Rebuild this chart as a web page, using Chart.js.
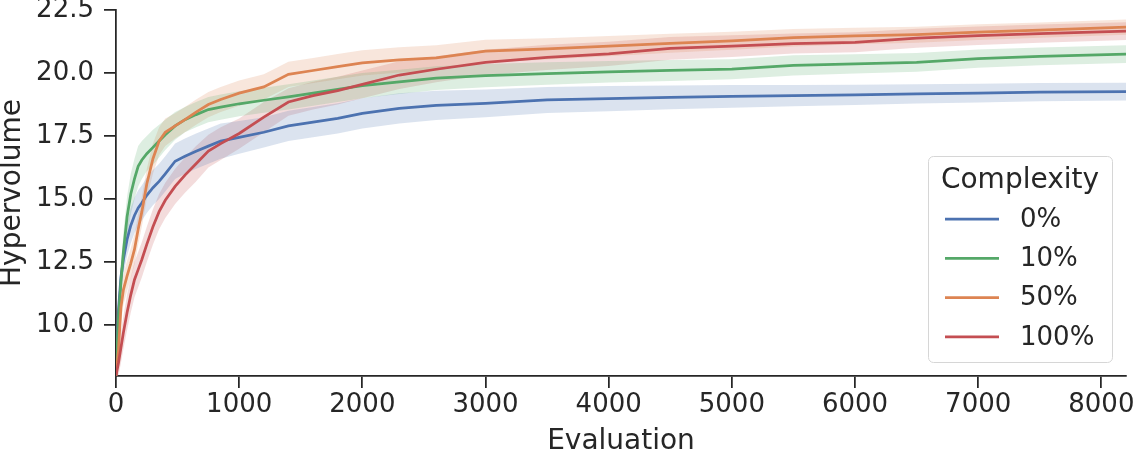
<!DOCTYPE html>
<html><head><meta charset="utf-8">
<script src="https://cdn.jsdelivr.net/npm/chart.js@4"></script>
<style>html,body{margin:0;padding:0;background:#fff;}canvas{display:block;}</style>
</head><body>
<canvas id="c" width="1136" height="455"></canvas>
<script>
const evaluations = [0,20,40,60,90,120,150,180,210,250,300,350,400,480,560,650,750,850,1000,1200,1400,1600,1800,2000,2300,2600,3000,3500,4000,4500,5000,5500,6000,6500,7000,7500,8200];
const seriesLabels = ['0%','10%','50%','100%'];
const seriesColors = ['#4c72b0','#55a868','#dd8452','#c44e52'];

const mean0 = [8.0,10.6,11.9,12.6,13.4,13.95,14.35,14.65,14.85,15.15,15.45,15.7,16.0,16.5,16.7,16.9,17.1,17.3,17.45,17.65,17.9,18.05,18.2,18.4,18.6,18.72,18.8,18.93,18.98,19.03,19.07,19.1,19.13,19.17,19.2,19.24,19.26];
const ci0   = [0.1,0.5,0.6,0.6,0.65,0.7,0.7,0.7,0.7,0.7,0.7,0.7,0.7,0.7,0.7,0.7,0.7,0.7,0.65,0.6,0.6,0.6,0.6,0.6,0.6,0.58,0.55,0.52,0.5,0.47,0.45,0.42,0.4,0.38,0.37,0.36,0.35];

const mean10 = [8.0,10.3,11.7,12.9,14.3,15.2,15.8,16.3,16.55,16.8,17.05,17.3,17.55,17.9,18.15,18.35,18.55,18.65,18.78,18.92,19.05,19.2,19.35,19.5,19.65,19.8,19.9,19.98,20.05,20.1,20.15,20.3,20.36,20.42,20.57,20.66,20.75];
const ci10   = [0.1,0.6,0.7,0.75,0.8,0.8,0.8,0.8,0.75,0.7,0.7,0.65,0.6,0.55,0.5,0.5,0.5,0.5,0.5,0.5,0.5,0.5,0.5,0.5,0.48,0.47,0.46,0.45,0.43,0.42,0.4,0.4,0.38,0.37,0.36,0.35,0.35];

const mean50 = [8.0,9.0,10.7,11.4,11.95,12.45,13.0,13.8,14.5,15.6,16.6,17.3,17.65,17.9,18.15,18.45,18.75,18.95,19.2,19.45,19.95,20.1,20.25,20.4,20.52,20.6,20.87,20.96,21.07,21.18,21.28,21.4,21.47,21.52,21.62,21.7,21.82];
const ci50   = [0.1,0.5,0.6,0.6,0.6,0.6,0.6,0.6,0.6,0.6,0.6,0.55,0.55,0.5,0.5,0.5,0.5,0.5,0.5,0.5,0.5,0.5,0.5,0.5,0.5,0.5,0.45,0.42,0.4,0.38,0.36,0.35,0.33,0.32,0.31,0.3,0.3];

const mean100 = [8.0,8.5,9.1,9.7,10.5,11.2,11.8,12.2,12.6,13.2,13.9,14.5,14.95,15.5,15.95,16.4,16.9,17.2,17.6,18.25,18.85,19.1,19.3,19.55,19.92,20.15,20.42,20.62,20.76,20.98,21.07,21.17,21.22,21.38,21.48,21.56,21.66];
const ci100   = [0.1,0.5,0.6,0.65,0.7,0.7,0.7,0.7,0.7,0.7,0.7,0.7,0.7,0.7,0.7,0.7,0.65,0.65,0.6,0.6,0.55,0.55,0.55,0.55,0.55,0.52,0.5,0.5,0.48,0.45,0.43,0.4,0.4,0.38,0.37,0.36,0.35];

const xTicks = [0,1000,2000,3000,4000,5000,6000,7000,8000];
const yTicks = [10,12.5,15,17.5,20,22.5];

const means = [mean0, mean10, mean50, mean100];
const cis = [ci0, ci10, ci50, ci100];

function hexA(hex, a){
  const n = parseInt(hex.slice(1),16);
  return `rgba(${(n>>16)&255},${(n>>8)&255},${n&255},${a})`;
}
const pts = arr => arr.map((v,i)=>({x:evaluations[i], y:v}));

const datasets = [];
means.forEach((m, s) => {
  const ci = cis[s];
  datasets.push({ data: pts(m.map((v,i)=>v+ci[i])), borderWidth:0, pointRadius:0, backgroundColor: hexA(seriesColors[s],0.2), fill:'+1', order:10, isBand:true });
  datasets.push({ data: pts(m.map((v,i)=>v-ci[i])), borderWidth:0, pointRadius:0, fill:false, order:10, isBand:true });
  datasets.push({ label: seriesLabels[s], data: pts(m), borderColor: seriesColors[s], backgroundColor: seriesColors[s], borderWidth:2.75, pointRadius:0, fill:false, order: 4-s, tension:0 });
});

const TXT = '#262626';
const FONT = 'DejaVu Sans';
Chart.defaults.font.family = FONT;
Chart.defaults.color = TXT;

const legendPlugin = {
  id: 'boxLegend',
  afterDraw(chart){
    const ctx = chart.ctx, ca = chart.chartArea;
    const w = 184, h = 206;
    const x0 = ca.right - 14 - w, y0 = ca.bottom - 14 - h;
    ctx.save();
    ctx.beginPath();
    ctx.roundRect(x0+0.5, y0+0.5, w, h, 5);
    ctx.fillStyle = 'rgba(255,255,255,0.8)';
    ctx.fill();
    ctx.strokeStyle = '#d6d6d6';
    ctx.lineWidth = 1;
    ctx.stroke();
    ctx.fillStyle = TXT;
    ctx.textBaseline = 'middle';
    ctx.textAlign = 'center';
    ctx.font = `28px "${FONT}"`;
    ctx.fillText('Complexity', x0 + w/2, y0 + 25);
    const lines = chart.data.datasets.filter(d => !d.isBand);
    ctx.textAlign = 'left';
    ctx.font = `26px "${FONT}"`;
    lines.forEach((d, i) => {
      const y = y0 + 63 + i*39.3;
      ctx.beginPath();
      ctx.moveTo(x0+17, y); ctx.lineTo(x0+71, y);
      ctx.strokeStyle = d.borderColor; ctx.lineWidth = 2.75;
      ctx.stroke();
      ctx.fillStyle = TXT;
      ctx.fillText(d.label, x0+92, y+1);
    });
    ctx.restore();
  }
};

function noPad(s){ s.paddingTop = 0; s.paddingBottom = 0; s.paddingLeft = 0; s.paddingRight = 0; }

new Chart(document.getElementById('c'), {
  type: 'line',
  data: { datasets },
  options: {
    responsive: false,
    animation: false,
    layout: { autoPadding: false, padding: { top: 10, right: 10, left: 0, bottom: 0 } },
    plugins: { legend: { display: false }, tooltip: { enabled: false } },
    scales: {
      x: {
        type: 'linear', min: 0, max: 8200,
        afterBuildTicks: s => { s.ticks = xTicks.map(v => ({ value: v })); },
        afterFit: s => { s.height = 79; noPad(s); },
        ticks: { font: { size: 26 }, color: TXT, padding: 2, maxRotation: 0, autoSkip: false, callback: v => String(v) },
        grid: { drawOnChartArea: false, drawTicks: true, tickLength: 12, tickWidth: 1.75, tickColor: TXT, lineWidth: 1.75, color: TXT },
        border: { display: true, color: TXT, width: 1.75 },
        title: { display: true, text: 'Evaluation', color: TXT, font: { size: 28, lineHeight: 0.93 }, padding: 0 }
      },
      y: {
        type: 'linear', min: 7.98, max: 22.5,
        afterBuildTicks: s => { s.ticks = yTicks.map(v => ({ value: v })); },
        afterFit: s => { s.width = 116; noPad(s); },
        ticks: { font: { size: 26 }, color: TXT, padding: 10, autoSkip: false, callback: v => v.toFixed(1) },
        grid: { drawOnChartArea: false, drawTicks: true, tickLength: 12, tickWidth: 1.75, tickColor: TXT, lineWidth: 1.75, color: TXT },
        border: { display: true, color: TXT, width: 1.75 },
        title: { display: true, text: 'Hypervolume', color: TXT, font: { size: 28, lineHeight: 0.93 }, padding: 0 }
      }
    }
  },
  plugins: [legendPlugin]
});
</script>
</body></html>
